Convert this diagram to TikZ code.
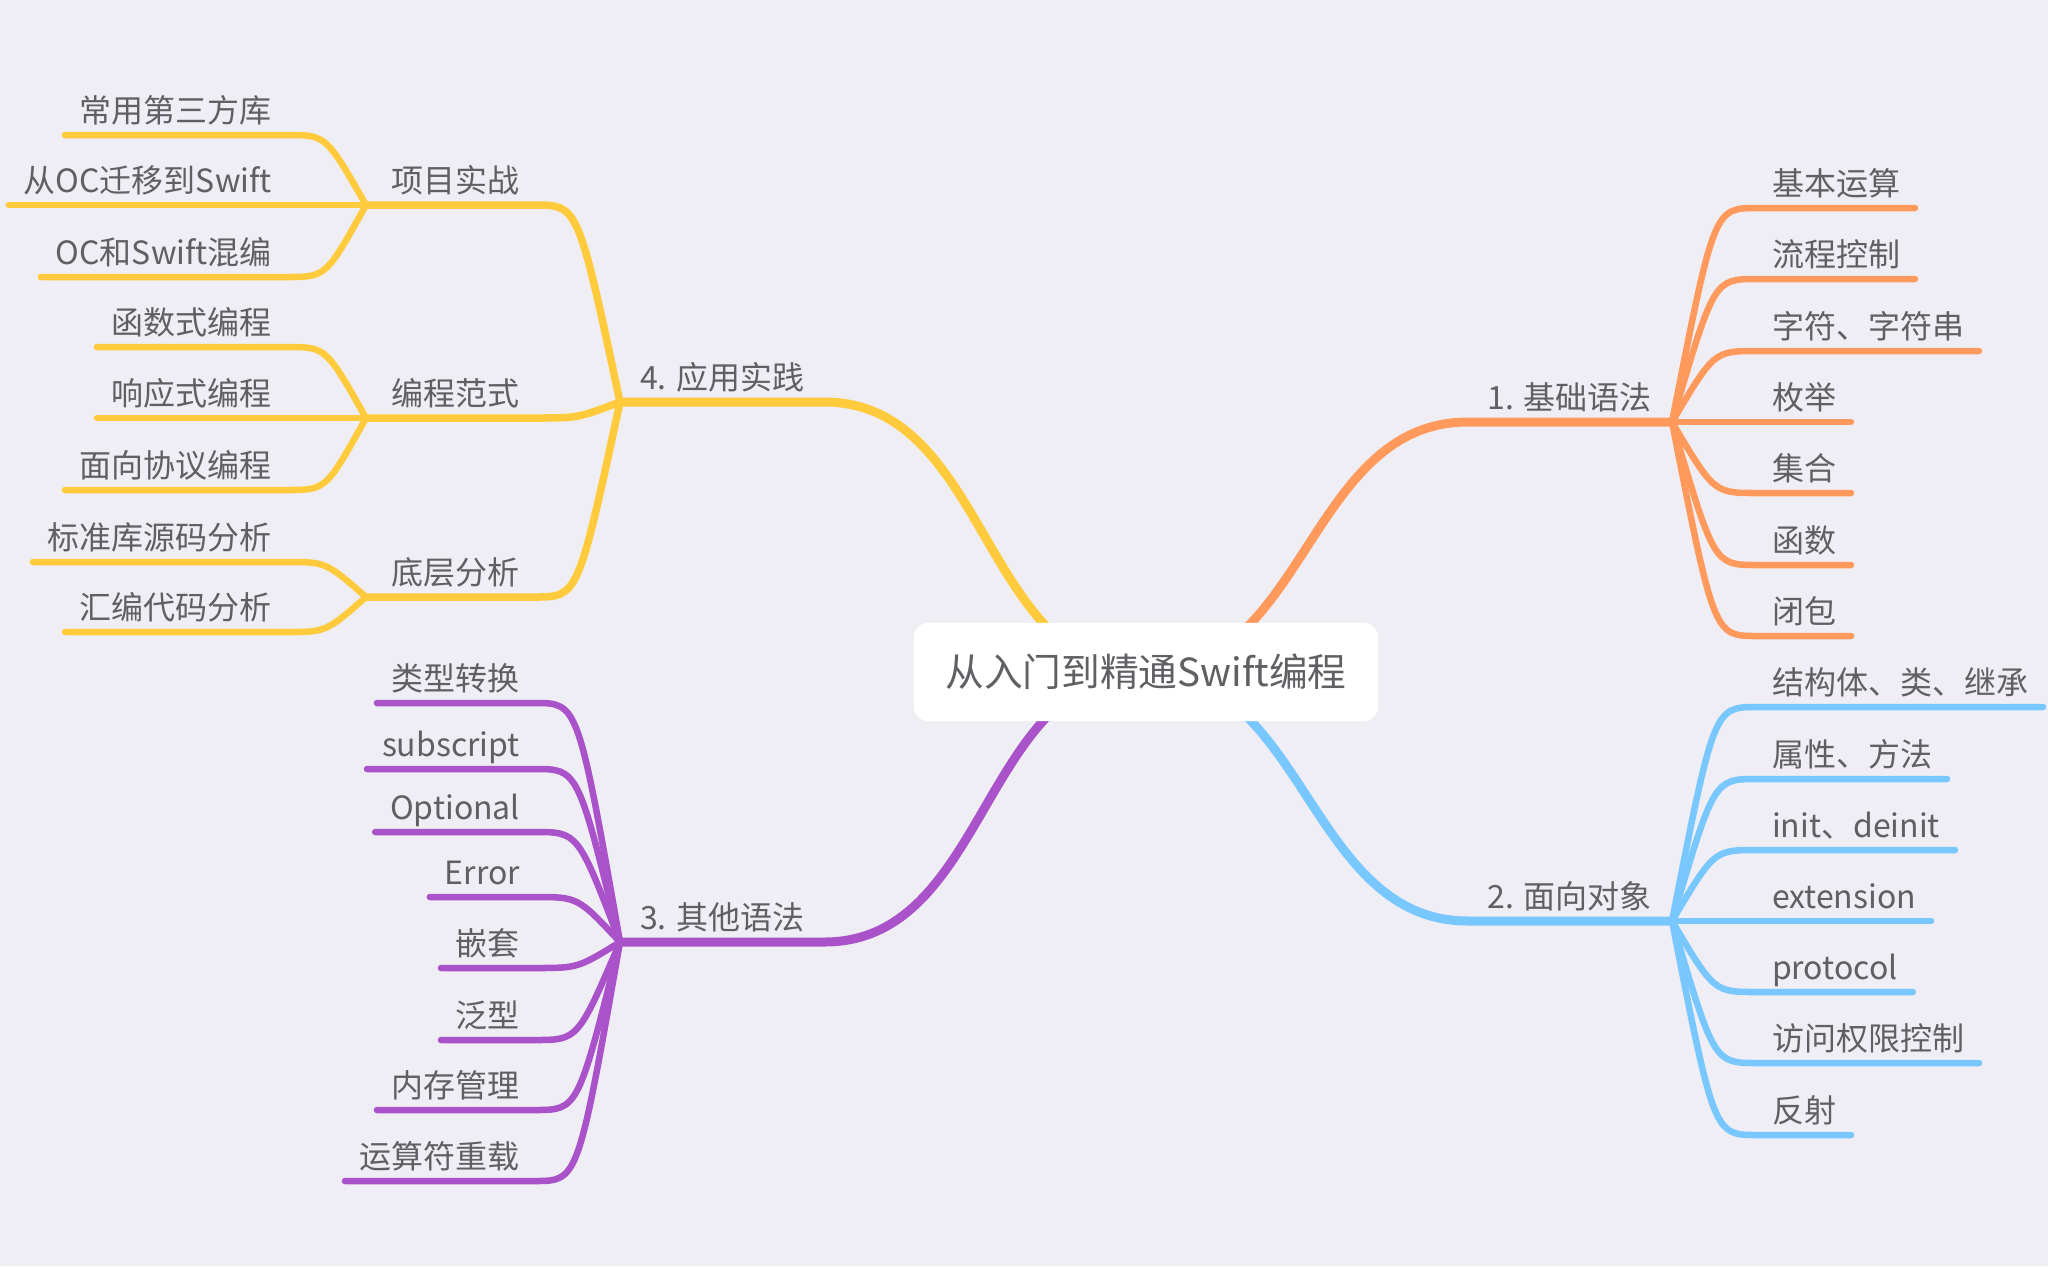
\documentclass[tikz,border=0pt]{standalone}
\usepackage{fontspec}
\setmainfont{Noto Sans CJK SC}
\usepackage{xcolor}
\usepackage{tikz}

\definecolor{bg}{HTML}{EEEEF4}
\definecolor{ink}{HTML}{5F5F64}
\definecolor{orangeb}{HTML}{FF9A5C}
\definecolor{blueb}{HTML}{78C7FF}
\definecolor{yellowb}{HTML}{FFCB3C}
\definecolor{purpleb}{HTML}{AA52C9}

\begin{document}
\begin{tikzpicture}[x=0.01cm, y=-0.01cm,
  topic/.style={font=\fontsize{9.1pt}{11pt}\selectfont, text=ink, inner xsep=0.15cm, inner ysep=0.13cm, text depth=0pt, outer sep=0pt},
  branch/.style={topic, inner xsep=0.2cm},
  rootbox/.style={fill=white, rounded corners=0.14cm, minimum width=4.64cm, minimum height=0.98cm, text=ink, font=\fontsize{11pt}{13pt}\selectfont},
  mainline/.style={line width=0.09cm, line cap=round},
  midline/.style={line width=0.075cm, line cap=round},
  leafline/.style={line width=0.065cm, line cap=round}]
\useasboundingbox (0,0) rectangle (2048,1266);
\fill[bg] (0,0) rectangle (2048,1266);
\coordinate (c) at (1146,672);

% main branches
\node[branch, anchor=south east] (b1) at (1672,422) {1. 基础语法};
\node[branch, anchor=south east] (b2) at (1672,921) {2. 面向对象};
\node[branch, anchor=south west] (b3) at (620,942) {3. 其他语法};
\node[branch, anchor=south west] (b4) at (620,402) {4. 应用实践};
\draw[mainline, orangeb] (c) to[out=0, in=180] (b1.south west) -- (b1.south east);
\draw[mainline, blueb] (c) to[out=0, in=180] (b2.south west) -- (b2.south east);
\draw[mainline, purpleb] (c) to[out=180, in=0] (b3.south east) -- (b3.south west);
\draw[mainline, yellowb] (c) to[out=180, in=0] (b4.south east) -- (b4.south west);

\node[rootbox] (root) at (c) {从入门到精通Swift编程};

% 1. orange
\foreach \i/\y/\t in {1/208/基本运算, 2/279/流程控制, 3/351/字符、字符串, 4/422/枚举,
    5/493/集合, 6/565/函数, 7/636/闭包} {
  \node[topic, anchor=south west] (o\i) at (1757,\y) {\t};
  \draw[leafline, orangeb] (b1.south east) .. controls (1714,\y) .. (o\i.south west) -- (o\i.south east);
}

% 2. blue
\foreach \i/\y/\t in {1/707/结构体、类、继承, 2/779/属性、方法, 3/850/init、deinit, 4/921/extension,
    5/992/protocol, 6/1063/访问权限控制, 7/1135/反射} {
  \node[topic, anchor=south west] (u\i) at (1757,\y) {\t};
  \draw[leafline, blueb] (b2.south east) .. controls (1714,\y) .. (u\i.south west) -- (u\i.south east);
}

% 3. purple
\foreach \i/\y/\t in {1/703/类型转换, 2/769/subscript, 3/832/Optional, 4/897/Error,
    5/968/嵌套, 6/1040/泛型, 7/1110/内存管理, 8/1181/运算符重载} {
  \node[topic, anchor=south east] (p\i) at (535,\y) {\t};
  \draw[leafline, purpleb] (b3.south west) .. controls (578,\y) .. (p\i.south east) -- (p\i.south west);
}

% 4. yellow
\foreach \i/\y/\t in {1/205/项目实战, 2/418/编程范式, 3/597/底层分析} {
  \coordinate (h\i) at (366,\y);
  \node[topic, anchor=south east] (m\i) at (535,\y) {\t};
  \draw[midline, yellowb] (b4.south west) .. controls (578,\y) .. (m\i.south east) -- (h\i);
}
\foreach \i/\j/\y/\t in {1/1/135/常用第三方库, 2/1/205/从OC迁移到Swift, 3/1/277/OC和Swift混编,
    4/2/347/函数式编程, 5/2/418/响应式编程, 6/2/490/面向协议编程,
    7/3/562/标准库源码分析, 8/3/632/汇编代码分析} {
  \node[topic, anchor=south east] (y\i) at (287,\y) {\t};
  \draw[leafline, yellowb] (h\j) .. controls (326,\y) .. (y\i.south east) -- (y\i.south west);
}
\end{tikzpicture}
\end{document}
